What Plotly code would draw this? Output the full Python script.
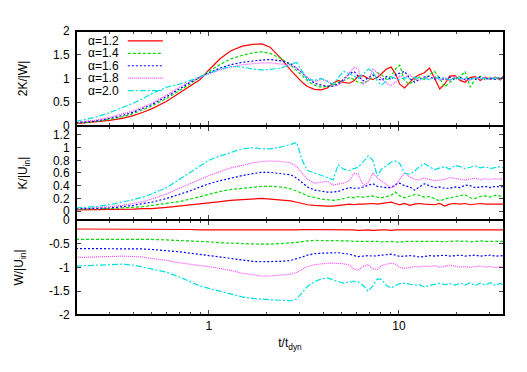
import plotly.graph_objects as go

# time in units of t_dyn
t = [0.2, 0.25, 0.3, 0.35, 0.4, 0.45, 0.5, 0.6, 0.7, 0.8, 0.9, 1.0, 1.15, 1.3, 1.5, 1.7,
     1.9, 2.1, 2.4, 2.7, 2.9, 3.1, 3.3, 3.6, 3.9, 4.2, 4.5, 4.8, 5.1, 5.5, 5.8, 6.1,
     6.5, 6.9, 7.3, 7.7, 8.1, 8.6, 9.1, 9.6, 10.1, 10.7, 11.4, 12.1, 12.8, 13.6, 14.5, 15.4,
     16.4, 17.4, 18.5, 19.7, 21, 22.3, 23.7, 25.2, 26.8, 28.5, 30.3, 32.2, 34.2, 35.5]

alphas = ["α=1.2", "α=1.4", "α=1.6", "α=1.8", "α=2.0"]

# top panel: 2K/|W|
vir_12 = [0.05, 0.08, 0.12, 0.16, 0.22, 0.29, 0.36, 0.52, 0.69, 0.85, 0.98, 1.18, 1.42, 1.58, 1.68, 1.72,
          1.73, 1.66, 1.42, 1.17, 1.03, 0.92, 0.83, 0.77, 0.76, 0.8, 0.9, 0.96,
          0.92, 0.9, 0.95, 1.05, 1.06, 1.0, 0.98, 1.02, 1.1, 1.2, 1.24, 1.1, 0.88, 0.8, 0.92, 1.02,
          1.08, 1.12, 1.22, 1.02, 0.78, 0.88, 1.05, 1.06, 0.96, 0.92, 1.02, 1.04, 0.96, 1.03, 0.98,
          1.03, 0.97, 1.05]
vir_14 = [0.06, 0.09, 0.14, 0.19, 0.26, 0.34, 0.42, 0.58, 0.74, 0.89, 1.03, 1.15, 1.3, 1.41, 1.49, 1.54,
          1.56, 1.53, 1.42, 1.28, 1.17, 1.06, 0.95, 0.86, 0.82, 0.83, 0.86, 0.92,
          0.95, 1.02, 0.98, 0.92, 0.9, 0.96, 1.05, 1.12, 1.08, 0.98, 1.05, 1.2, 1.28, 0.95, 0.88, 0.98,
          1.03, 0.98, 1.08, 1.15, 1.0, 0.82, 0.92, 1.0, 1.04, 1.15, 0.82, 0.98, 1.05, 0.97, 1.02,
          0.98, 1.03, 1.0]
vir_16 = [0.07, 0.1, 0.16, 0.22, 0.29, 0.37, 0.45, 0.62, 0.79, 0.92, 1.03, 1.12, 1.22, 1.29, 1.34, 1.37,
          1.39, 1.4, 1.37, 1.31, 1.22, 1.12, 1.0, 0.9, 0.86, 0.84, 0.84, 0.88,
          0.98, 1.1, 1.15, 1.05, 0.95, 1.02, 1.08, 1.0, 0.96, 1.04, 0.98, 1.08, 1.12, 1.15, 1.0, 0.92,
          0.98, 1.03, 1.05, 0.98, 1.02, 0.97, 1.03, 0.98, 1.02, 0.97, 1.01, 0.98, 1.03, 0.99, 1.01,
          0.98, 1.02, 1.0]
vir_18 = [0.08, 0.12, 0.18, 0.25, 0.32, 0.4, 0.48, 0.65, 0.82, 0.94, 1.03, 1.1, 1.18, 1.24, 1.29, 1.31,
          1.33, 1.33, 1.31, 1.28, 1.22, 1.12, 1.02, 0.94, 0.98, 0.95, 0.84, 0.86,
          0.95, 1.12, 1.24, 1.2, 0.88, 0.95, 1.2, 1.12, 1.0, 0.9, 0.85, 0.92, 1.05, 1.02, 1.08, 0.98,
          0.96, 1.03, 0.98, 1.06, 0.97, 1.02, 0.95, 1.04, 0.98, 1.0, 0.96, 1.03, 0.99, 1.02, 0.97,
          1.03, 0.99, 1.01]
vir_20 = [0.1, 0.18, 0.28, 0.38, 0.48, 0.58, 0.68, 0.82, 0.88, 0.96, 1.04, 1.12, 1.2, 1.25, 1.24, 1.2,
          1.18, 1.19, 1.22, 1.3, 1.34, 1.15, 0.98, 0.96, 1.0, 0.94, 0.88, 1.02,
          1.15, 1.1, 1.04, 1.0, 1.1, 1.2, 1.15, 0.95, 0.86, 0.95, 1.04, 1.0, 0.97, 1.02, 0.99, 1.03,
          0.98, 1.01, 0.97, 1.03, 0.99, 1.02, 0.97, 1.02, 0.99, 1.01, 0.98, 1.02, 0.99, 1.01, 0.98,
          1.02, 0.99, 1.0]

# middle panel: K/|U_in|
kin_12 = [0.02, 0.02, 0.02, 0.03, 0.03, 0.04, 0.04, 0.06, 0.08, 0.09, 0.11, 0.13, 0.15, 0.17, 0.18, 0.19,
          0.2, 0.19, 0.18, 0.16, 0.14, 0.12, 0.1, 0.09, 0.08, 0.08, 0.08, 0.09,
          0.11, 0.11, 0.1, 0.11, 0.11, 0.12, 0.12, 0.11, 0.12, 0.12, 0.14, 0.12, 0.1, 0.12, 0.09, 0.11,
          0.12, 0.11, 0.11, 0.1, 0.12, 0.08, 0.11, 0.12, 0.11, 0.12, 0.1, 0.11, 0.12, 0.11, 0.11,
          0.12, 0.11, 0.11]
kin_14 = [0.03, 0.03, 0.04, 0.05, 0.06, 0.07, 0.09, 0.12, 0.15, 0.19, 0.23, 0.27, 0.31, 0.34, 0.36, 0.38,
          0.39, 0.39, 0.38, 0.35, 0.32, 0.28, 0.24, 0.21, 0.19, 0.18, 0.17, 0.18,
          0.2, 0.22, 0.21, 0.23, 0.22, 0.23, 0.24, 0.22, 0.21, 0.23, 0.25, 0.3, 0.24, 0.21, 0.24, 0.26,
          0.25, 0.22, 0.23, 0.2, 0.16, 0.19, 0.21, 0.22, 0.24, 0.26, 0.21, 0.2, 0.23, 0.24, 0.22,
          0.25, 0.24, 0.23]
kin_16 = [0.035, 0.04, 0.05, 0.07, 0.09, 0.12, 0.14, 0.2, 0.26, 0.32, 0.38, 0.43, 0.48, 0.52, 0.56, 0.59,
          0.61, 0.61, 0.59, 0.57, 0.52, 0.45, 0.38, 0.33, 0.31, 0.3, 0.3, 0.31,
          0.34, 0.37, 0.36, 0.36, 0.38, 0.41, 0.43, 0.39, 0.38, 0.37, 0.37, 0.42, 0.44, 0.4, 0.38, 0.33,
          0.38, 0.43, 0.4, 0.37, 0.38, 0.36, 0.36, 0.38, 0.37, 0.41, 0.4, 0.37, 0.38, 0.39, 0.37,
          0.39, 0.38, 0.39]
kin_18 = [0.04, 0.05, 0.07, 0.09, 0.12, 0.15, 0.19, 0.27, 0.36, 0.43, 0.5, 0.56, 0.62, 0.68, 0.72, 0.76,
          0.78, 0.79, 0.78, 0.76, 0.7, 0.6, 0.5, 0.44, 0.46, 0.47, 0.41, 0.42,
          0.44, 0.48, 0.6, 0.58, 0.4, 0.45, 0.6, 0.52, 0.48, 0.42, 0.37, 0.4, 0.5, 0.6, 0.54, 0.5,
          0.49, 0.52, 0.5, 0.48, 0.49, 0.5, 0.53, 0.51, 0.5, 0.49, 0.5, 0.52, 0.49, 0.51, 0.5,
          0.51, 0.5, 0.52]
kin_20 = [0.05, 0.07, 0.1, 0.14, 0.18, 0.22, 0.27, 0.37, 0.5, 0.62, 0.72, 0.8, 0.87, 0.92, 0.98, 1.0,
          0.98, 0.98, 1.01, 1.05, 1.08, 0.8, 0.64, 0.6, 0.57, 0.53, 0.49, 0.73,
          0.66, 0.64, 0.67, 0.69, 0.78, 0.87, 0.8, 0.55, 0.66, 0.72, 0.77, 0.79, 0.75, 0.6, 0.58, 0.63,
          0.7, 0.75, 0.7, 0.65, 0.68, 0.7, 0.66, 0.72, 0.7, 0.67, 0.69, 0.71, 0.68, 0.7, 0.67,
          0.69, 0.7, 0.68]

# bottom panel: W/|U_in|
pot_12 = [-0.19, -0.19, -0.19, -0.19, -0.19, -0.19, -0.2, -0.2, -0.2, -0.2, -0.21, -0.21, -0.21, -0.21, -0.22, -0.22,
          -0.22, -0.22, -0.21, -0.21, -0.21, -0.2, -0.2, -0.2, -0.2, -0.2, -0.2, -0.21,
          -0.21, -0.21, -0.21, -0.22, -0.21, -0.21, -0.22, -0.21, -0.21, -0.21, -0.22, -0.21, -0.21, -0.21, -0.22, -0.21,
          -0.21, -0.22, -0.21, -0.21, -0.21, -0.22, -0.21, -0.21, -0.21, -0.22, -0.21, -0.21, -0.22, -0.21, -0.21,
          -0.21, -0.22, -0.21]
pot_14 = [-0.41, -0.41, -0.4, -0.4, -0.4, -0.4, -0.41, -0.42, -0.43, -0.44, -0.45, -0.46, -0.48, -0.49, -0.5, -0.51,
          -0.51, -0.51, -0.5, -0.48, -0.47, -0.45, -0.44, -0.43, -0.43, -0.43, -0.43, -0.44,
          -0.44, -0.44, -0.45, -0.45, -0.44, -0.44, -0.45, -0.45, -0.46, -0.45, -0.45, -0.46, -0.47, -0.45, -0.45, -0.44,
          -0.45, -0.44, -0.45, -0.44, -0.45, -0.46, -0.45, -0.44, -0.45, -0.44, -0.46, -0.45, -0.44, -0.45, -0.45,
          -0.44, -0.45, -0.45]
pot_16 = [-0.6, -0.6, -0.6, -0.6, -0.61, -0.61, -0.62, -0.64, -0.67, -0.7, -0.72, -0.75, -0.78, -0.81, -0.84, -0.87,
          -0.88, -0.88, -0.87, -0.85, -0.82, -0.78, -0.74, -0.71, -0.7, -0.69, -0.69, -0.69,
          -0.7, -0.72, -0.75, -0.77, -0.76, -0.75, -0.76, -0.75, -0.74, -0.73, -0.72, -0.74, -0.77, -0.76, -0.75, -0.76,
          -0.78, -0.77, -0.75, -0.76, -0.75, -0.74, -0.76, -0.75, -0.74, -0.76, -0.75, -0.74, -0.76, -0.75, -0.74,
          -0.76, -0.75, -0.75]
pot_18 = [-0.79, -0.78, -0.76, -0.76, -0.77, -0.78, -0.81, -0.85, -0.9, -0.94, -0.96, -0.98, -1.02, -1.06, -1.12, -1.16,
          -1.18, -1.18, -1.16, -1.14, -1.1, -1.04, -0.98, -0.94, -0.92, -0.91, -0.91, -0.91,
          -0.92, -0.95, -1.03, -1.06, -0.97, -0.94, -1.03, -1.04, -0.96, -0.93, -0.91, -0.93, -1.0, -1.02, -1.0, -0.98,
          -0.99, -0.97, -0.98, -0.96, -0.99, -0.98, -0.95, -0.97, -0.99, -0.98, -1.0, -0.98, -0.97, -0.99, -0.98,
          -1.0, -0.98, -0.99]
pot_20 = [-0.97, -0.95, -0.93, -0.93, -0.95, -0.99, -1.03, -1.1, -1.2, -1.31, -1.39, -1.44, -1.5, -1.56, -1.62, -1.65,
          -1.67, -1.68, -1.69, -1.7, -1.66, -1.52, -1.4, -1.3, -1.24, -1.22, -1.26, -1.31,
          -1.33, -1.31, -1.29, -1.3, -1.38, -1.5, -1.38, -1.24, -1.25, -1.38, -1.43, -1.38, -1.34, -1.33, -1.35, -1.37,
          -1.36, -1.41, -1.38, -1.36, -1.33, -1.36, -1.34, -1.37, -1.33, -1.37, -1.32, -1.38, -1.33, -1.37, -1.32,
          -1.38, -1.33, -1.37]

colors = ["#ff0000", "#00dd00", "#0000ff", "#ff44ff", "#00e0e0"]
dashes = ["solid", "3px,2px", "2px,2px", "1px,1px", "6px,2px,2px,2px"]

panels = [[vir_12, vir_14, vir_16, vir_18, vir_20],
          [kin_12, kin_14, kin_16, kin_18, kin_20],
          [pot_12, pot_14, pot_16, pot_18, pot_20]]
axis_ids = ["", "2", "3"]

fig = go.Figure()
for k, series in enumerate(panels):
    for i, y in enumerate(series):
        fig.add_trace(go.Scatter(x=t, y=y, mode="lines", name=alphas[i], showlegend=False,
                                 xaxis="x" + axis_ids[k], yaxis="y" + axis_ids[k],
                                 line=dict(color=colors[i], width=1.2, dash=dashes[i])))

font = dict(family="Liberation Sans, Arial, sans-serif", size=12, color="black")

# hand-made legend in the top panel, text left of the sample line
for i, name in enumerate(alphas):
    yy = 0.965 - i * 0.0437
    fig.add_annotation(x=0.105, y=yy, xref="paper", yref="paper", text=name, showarrow=False,
                       xanchor="right", yanchor="middle", font=font)
    fig.add_shape(type="line", xref="paper", yref="paper", x0=0.121, x1=0.203, y0=yy, y1=yy,
                  line=dict(color=colors[i], width=1.2, dash=dashes[i]))

# heavier outer frame and panel dividers
fig.add_shape(type="rect", xref="paper", yref="paper", x0=0, x1=1, y0=0, y1=1,
              line=dict(color="black", width=2), layer="above")
for yb in (0.3345, 0.6655):
    fig.add_shape(type="line", xref="paper", yref="paper", x0=0, x1=1, y0=yb, y1=yb,
                  line=dict(color="black", width=2), layer="above")

xcommon = dict(type="log", range=[-0.699, 1.553], ticks="inside", ticklen=5, tickwidth=1,
               tickvals=[1, 10], ticktext=["1", "10"], showgrid=False, zeroline=False,
               showline=True, linecolor="black", linewidth=1, mirror="ticks",
               minor=dict(ticks="inside", ticklen=3, tickwidth=1,
                          tickvals=[0.2, 0.3, 0.4, 0.5, 0.6, 0.7, 0.8, 0.9, 2, 3, 4, 5, 6, 7, 8, 9, 20, 30],
                          showgrid=False),
               tickfont=font)
ycommon = dict(ticks="inside", ticklen=5, tickwidth=1, showgrid=False, zeroline=False,
               showline=True, linecolor="black", linewidth=1, mirror="ticks", tickfont=font,
               ticklabelstandoff=3)

fig.update_layout(
    xaxis=dict(xcommon, anchor="y", showticklabels=False),
    xaxis2=dict(xcommon, anchor="y2", matches="x", showticklabels=False),
    xaxis3=dict(xcommon, anchor="y3", matches="x",
                title=dict(text="t/t<sub>dyn</sub>", font=font, standoff=6)),
    yaxis=dict(ycommon, anchor="x", domain=[0.6655, 1], range=[0, 2],
               tickvals=[0, 0.5, 1, 1.5, 2], ticktext=["0", "0.5", "1", "1.5", "2"],
               title=dict(text="2K/|W|", font=font, standoff=22)),
    yaxis2=dict(ycommon, anchor="x2", domain=[0.3345, 0.6655], range=[-0.14, 1.34],
                tickvals=[0, 0.2, 0.4, 0.6, 0.8, 1, 1.2],
                ticktext=["0", "0.2", "0.4", "0.6", "0.8", "1", "1.2"],
                title=dict(text="K/|U<sub>in</sub>|", font=font, standoff=22)),
    yaxis3=dict(ycommon, anchor="x3", domain=[0, 0.3345], range=[-2, 0],
                tickvals=[-2, -1.5, -1, -0.5, 0], ticktext=["-2", "-1.5", "-1", "-0.5", "0"],
                title=dict(text="W/|U<sub>in</sub>|", font=font, standoff=22)),
)

# page body adds 8px, so the figure is made smaller to sit in the window
fig.update_layout(width=511, height=356, margin=dict(l=68, r=15, t=23, b=49),
                  plot_bgcolor="white", paper_bgcolor="white", font=font)

fig.write_html("out.html")
